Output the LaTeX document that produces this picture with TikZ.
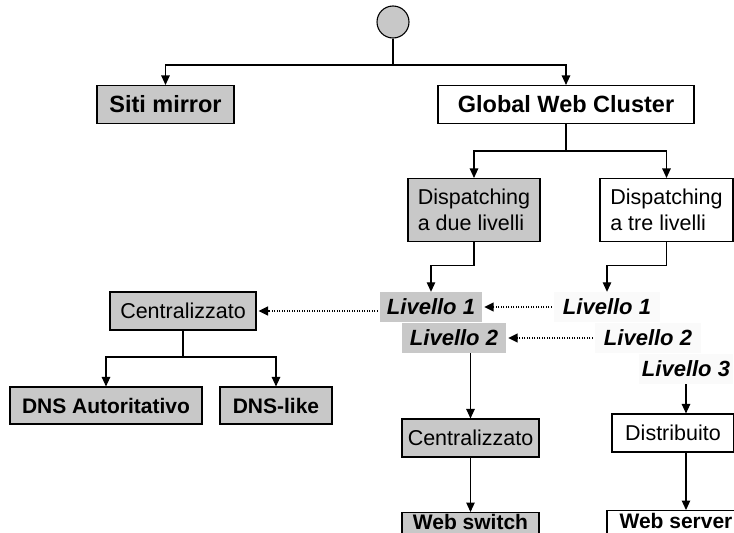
\documentclass[tikz,border=0pt]{standalone}
\usepackage{fontspec}
\setmainfont{Liberation Sans}
\usetikzlibrary{arrows.meta}
\definecolor{boxgray}{HTML}{C8C8C8}
\definecolor{paleface}{HTML}{FAFAFA}

\begin{document}
\begin{tikzpicture}[x=1pt,y=-1pt,
  box/.style={draw, line width=1.1pt, inner sep=0pt},
  greybox/.style={box, fill=boxgray},
  whitebox/.style={box, fill=white},
  toptxt/.style={font=\fontsize{23.5}{28}\selectfont\bfseries},
  boldtxt/.style={font=\fontsize{21}{26}\selectfont\bfseries},
  regtxt/.style={font=\fontsize{21.5}{26}\selectfont},
  leveltxt/.style={font=\fontsize{22}{26}\selectfont\bfseries\itshape, inner sep=0pt, minimum height=30},
  greylevel/.style={leveltxt, fill=boxgray},
  palelevel/.style={leveltxt, fill=paleface},
  % leaf boxes running into the lower edge
  leafbox/.style={boldtxt, anchor=north, text height=17pt, text depth=5pt},
  conn/.style={line width=1.1pt, -{Triangle[length=9.5pt,width=8.5pt]}},
  link/.style={line width=1.1pt},
  dotlink/.style={line width=1.5pt, dash pattern=on 1.1pt off 1.4pt,
    -{Triangle[length=9.5pt,width=9pt]}, shorten >=2pt, shorten <=2pt}]

\useasboundingbox (0,0) rectangle (734,533);
\clip (0,0) rectangle (734,533);

% root and first level
\node[circle, draw, line width=1.1pt, fill=boxgray, minimum size=32, inner sep=0pt] (root) at (393,22) {};
\node[greybox, toptxt, minimum width=137, minimum height=38] (mirror) at (165.5,104.5) {Siti mirror};
\node[whitebox, toptxt, minimum width=256, minimum height=38] (gwc) at (566,104.5) {Global Web Cluster};
\coordinate (bus) at (393,65);
\draw[link] (root.south) -- (bus);
\draw[conn] (bus) -| (mirror.north);
\draw[conn] (bus) -| (gwc.north);

% dispatching variants
\node[greybox, regtxt, minimum width=132, minimum height=63, align=left] (due) at (474,210) {Dispatching\\a due livelli};
\node[whitebox, regtxt, minimum width=133, minimum height=63, align=left] (tre) at (666.5,210) {Dispatching\\a tre livelli};
\coordinate (split) at (566,151);
\draw[link] (gwc.south) -- (split);
\draw[conn] (split) -| (due.north);
\draw[conn] (split) -| (tre.north);

% levels
\node[greylevel, minimum width=102] (l1l) at (431,307) {Livello 1};
\node[greylevel, minimum width=104] (l2l) at (454,338) {Livello 2};
\node[palelevel, minimum width=106] (l1r) at (607,307) {Livello 1};
\node[palelevel, minimum width=106] (l2r) at (648,338) {Livello 2};
\node[palelevel, minimum width=94] (l3r) at (686,369) {Livello 3};
\draw[conn] (due.south) -- ++(0,23) -| (l1l.north);
\draw[conn] (tre.south) -- ++(0,23) -| (l1r.north);
\draw[dotlink] (l1r.west) -- (l1l.east);
\draw[dotlink] (l2r.west) -- (l2l.east);

% left branch
\node[greybox, regtxt, minimum width=146, minimum height=38] (centl) at (183,311) {Centralizzato};
\draw[dotlink] (l1l.west |- centl.east) -- (centl.east);
\node[greybox, boldtxt, minimum width=192, minimum height=37] (dnsa) at (106,405.5) {DNS Autoritativo};
\node[greybox, boldtxt, minimum width=112, minimum height=37] (dnsl) at (276,405.5) {DNS-like};
\coordinate (csplit) at (183,357);
\draw[link] (centl.south) -- (csplit);
\draw[conn] (csplit) -| (dnsa.north);
\draw[conn] (csplit) -| (dnsl.north);

% middle branch
\node[greybox, regtxt, minimum width=137, minimum height=38] (centm) at (470.5,438) {Centralizzato};
\node[greybox, leafbox, minimum width=137] (wsw) at (470.5,512) {Web switch};
\draw[conn] (centm.north |- l2l.south) -- (centm.north);
\draw[conn] (centm.south) -- (wsw.north);

% right branch
\node[whitebox, regtxt, minimum width=122, minimum height=38] (distr) at (673,433) {Distribuito};
\node[whitebox, leafbox, minimum width=138, text height=18pt] (wsrv) at (676,510) {Web server};
\draw[conn] (l3r.south) -- (l3r.south |- distr.north);
\draw[conn] (l3r.south |- distr.south) -- (l3r.south |- wsrv.north);
\end{tikzpicture}
\end{document}
